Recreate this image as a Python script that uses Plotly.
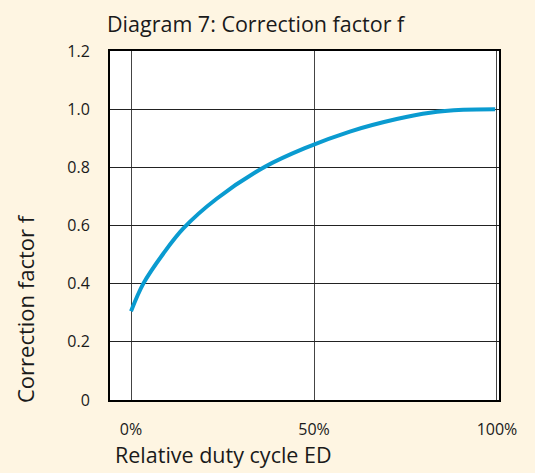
import plotly.graph_objects as go

# Data
duty_cycle = [0, 3.4, 8.8, 14.3, 23.4, 36.6, 47.5, 59.8, 72.6, 81.7, 90.8, 99.5]
factor = [0.305, 0.401, 0.503, 0.590, 0.692, 0.802, 0.866, 0.923, 0.966, 0.988, 0.998, 1.0]

x_tickvals = [0, 50, 100]
x_ticktext = ["0%", "50%", "100%"]
y_tickvals = [0, 0.2, 0.4, 0.6, 0.8, 1.0, 1.2]
y_ticktext = ["0", "0.2", "0.4", "0.6", "0.8", "1.0", "1.2"]

FONT = "Open Sans"
TXT = "#1a1a1a"
BG = "#fef5e2"

fig = go.Figure()
fig.add_trace(go.Scatter(
    x=duty_cycle, y=factor, mode="lines",
    line=dict(color="#0a9bd0", width=4, shape="spline", smoothing=1.0),
    hoverinfo="skip", showlegend=False,
))

fig.update_layout(
    width=535, height=473,
    paper_bgcolor=BG, plot_bgcolor="white",
    margin=dict(l=110, r=36, t=51, b=73),
    font=dict(family=FONT, color=TXT, size=16),
    title=dict(text="Diagram 7: Correction factor f", x=107/535, xanchor="left",
               y=1 - 24/473, yanchor="middle", font=dict(size=21.5, family=FONT, color=TXT)),
    xaxis=dict(range=[-5.74, 100.55], tickvals=x_tickvals, ticktext=x_ticktext,
               showgrid=True, gridcolor="#444", gridwidth=1,
               showline=True, linecolor="black", linewidth=2, mirror=True,
               zeroline=False, ticks="", ticklabelstandoff=14,
               tickfont=dict(size=16, family=FONT, color=TXT), fixedrange=True),
    yaxis=dict(range=[0, 1.2], tickvals=y_tickvals, ticktext=y_ticktext,
               showgrid=True, gridcolor="#222", gridwidth=1,
               showline=True, linecolor="black", linewidth=2, mirror=True,
               zeroline=False, ticks="", ticklabelstandoff=15,
               tickfont=dict(size=16, family=FONT, color=TXT), fixedrange=True),
    annotations=[
        dict(text="Relative duty cycle ED", xref="paper", yref="paper",
             x=(113 - 110) / 389, xanchor="left", y=-(471 - 400) / 349, yanchor="bottom",
             showarrow=False, font=dict(size=21.5, family=FONT, color=TXT)),
        dict(text="Correction factor f", xref="paper", yref="paper",
             x=-(110 - 25) / 389, xanchor="center", y=(400 - 309) / 349, yanchor="middle",
             textangle=-90, showarrow=False, font=dict(size=22, family=FONT, color=TXT)),
    ],
)

fig.write_html("out.html", config={"displayModeBar": False},
               post_script="document.body.style.margin='0';document.body.style.background='%s';" % BG)
